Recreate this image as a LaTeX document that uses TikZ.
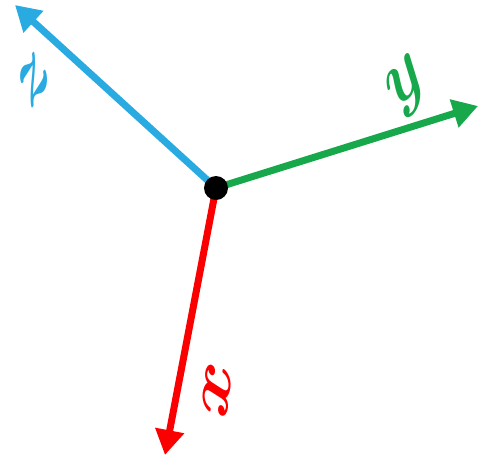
\documentclass[tikz,border=0pt]{standalone}
\usetikzlibrary{arrows.meta}
\definecolor{axblue}{RGB}{41,171,226}
\definecolor{axgreen}{RGB}{22,168,74}
\definecolor{axred}{RGB}{250,0,0}
\newcommand{\axlab}[2]{\scalebox{5.8}[8.4]{\rotatebox{#1}{\boldmath$#2$}}}
\begin{document}
\begin{tikzpicture}[x=1pt,y=-1pt,
  axis/.style={line width=7pt,-{Triangle[length=25pt,width=28pt]}},
  lab/.style={inner sep=0pt}]
\useasboundingbox (0,0) rectangle (479,459);
\coordinate (o) at (216,188);
\coordinate (tz) at (15,5);
\coordinate (ty) at (478,106);
\coordinate (tx) at (165,455);
\draw[axis,axblue] (o) -- (tz);
\draw[axis,axgreen] (o) -- (ty);
\draw[axis,axred] (o) -- (tx);
\fill[black] (o) circle (12pt);
\node[lab,text=axblue] (lz) at (34,80) {\axlab{45}{z}};
\node[lab,text=axgreen] (ly) at (407,87) {\axlab{38}{y}};
\node[lab,text=axred] (lx) at (217,390) {\axlab{80}{x}};
\end{tikzpicture}
\end{document}
